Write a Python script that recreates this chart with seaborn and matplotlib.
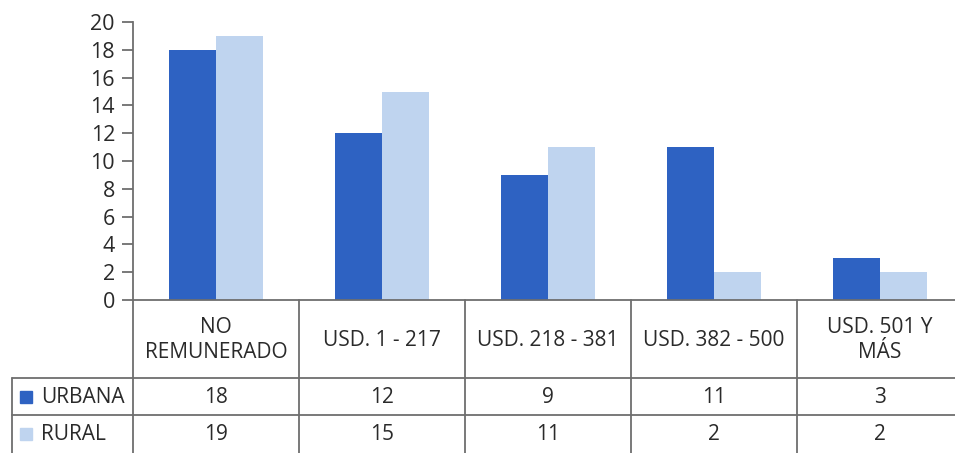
import matplotlib
matplotlib.use("Agg")
import matplotlib.pyplot as plt
import seaborn as sns
import pandas as pd

categories = ["NO\nREMUNERADO", "USD. 1 - 217", "USD. 218 - 381", "USD. 382 - 500", "USD. 501 Y\nMÁS"]
series_names = ["URBANA", "RURAL"]
urbana = [18, 12, 9, 11, 3]
rural = [19, 15, 11, 2, 2]
yticks = [0, 2, 4, 6, 8, 10, 12, 14, 16, 18, 20]

colors = {"URBANA": "#2E62C2", "RURAL": "#BFD4EF"}
text_color = "#2a2a2a"
line_color = "#6e6e6e"

df = pd.DataFrame({
    "cat": categories * 2,
    "serie": [series_names[0]] * len(categories) + [series_names[1]] * len(categories),
    "val": urbana + rural,
})

sns.set_theme(style="white")
plt.rcParams["font.family"] = ["Open Sans", "DejaVu Sans"]

W, H = 955, 453
fig = plt.figure(figsize=(W / 100, H / 100), dpi=100)
fig.patch.set_facecolor("white")

x0, x1 = 133, 963
y_top, y_axis = 22, 300
ax = fig.add_axes([x0 / W, (H - y_axis) / H, (x1 - x0) / W, (y_axis - y_top) / H])

sns.barplot(data=df, x="cat", y="val", hue="serie", order=categories,
            hue_order=series_names, palette=colors, width=0.57,
            legend=False, ax=ax, saturation=1, linewidth=0)
ax.set_xlim(-0.5, 4.5)
ax.set_ylim(0, 20)
ax.set_yticks(yticks)
ax.set_yticklabels([str(t) for t in yticks], fontsize=15.5, color=text_color)
ax.set_xticks([])
ax.set_xlabel("")
ax.set_ylabel("")
for s in ["top", "right"]:
    ax.spines[s].set_visible(False)
for s in ["left", "bottom"]:
    ax.spines[s].set_color(line_color)
    ax.spines[s].set_linewidth(1.3)
ax.tick_params(axis="y", length=8, width=1.3, color=line_color, pad=5, left=True)
ax.grid(False)

# Table below the chart (pixel-coordinate axes)
tab = fig.add_axes([0, 0, 1, (H - y_axis) / H])
tab.set_xlim(0, W)
tab.set_ylim(H, y_axis)
tab.axis("off")

unit = (x1 - x0) / 5.0
bounds = [x0 + unit * i for i in range(6)]
row_hdr_bot, row_u_bot, row_r_bot = 378, 415, 453
left_col = 12
lw = 1.3
for b in bounds:
    tab.plot([b, b], [y_axis, row_r_bot], color=line_color, lw=lw, clip_on=False)
tab.plot([left_col, left_col], [row_hdr_bot, row_r_bot], color=line_color, lw=lw)
for yy in [row_hdr_bot, row_u_bot]:
    tab.plot([left_col, W], [yy, yy], color=line_color, lw=lw)

fs = 15
for i, c in enumerate(categories):
    cx = (bounds[i] + bounds[i + 1]) / 2
    tab.text(cx, (y_axis + row_hdr_bot) / 2 + 1, c, ha="center", va="center",
             fontsize=fs, color=text_color, linespacing=1.2)
    tab.text(cx, (row_hdr_bot + row_u_bot) / 2 + 1, str(urbana[i]), ha="center",
             va="center", fontsize=fs, color=text_color)
    tab.text(cx, (row_u_bot + row_r_bot) / 2 + 1, str(rural[i]), ha="center",
             va="center", fontsize=fs, color=text_color)

for name, (ya, yb) in zip(series_names, [(row_hdr_bot, row_u_bot), (row_u_bot, row_r_bot)]):
    cy = (ya + yb) / 2
    tab.add_patch(plt.Rectangle((20, cy - 6), 12, 12, color=colors[name]))
    tab.text(41, cy + 1, name, ha="left", va="center", fontsize=fs, color=text_color)

fig.savefig("out.png", dpi=100, facecolor="white")
